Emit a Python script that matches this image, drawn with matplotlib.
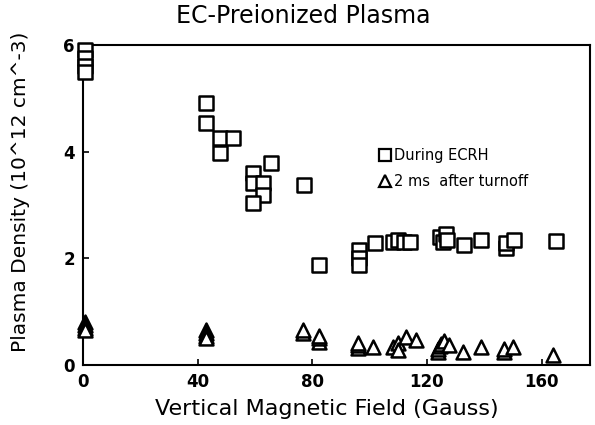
import matplotlib
matplotlib.use('Agg')
import matplotlib.pyplot as plt
from matplotlib.lines import Line2D

# 磁场 (Gauss) 与等离子体密度 (10^12 cm^-3)
ecrh_field = [0.5, 0.5, 0.5, 0.5, 42.7, 42.7, 47.9, 52.1, 47.9, 65.4, 59.4, 59.4, 62.9, 62.6,
              59.4, 76.9, 82.2, 96.2, 96.2, 96.2, 102, 108, 110, 112, 114, 124.5, 125.5,
              126.5, 127, 133, 139, 147.5, 147.5, 150.3, 165]
ecrh_density = [5.9, 5.75, 5.6, 5.5, 4.92, 4.54, 4.26, 4.26, 3.98, 3.79, 3.6, 3.41, 3.41,
                3.19, 3.04, 3.38, 1.88, 2.15, 2.0, 1.88, 2.28, 2.3, 2.35, 2.3, 2.3, 2.4,
                2.3, 2.45, 2.35, 2.25, 2.35, 2.19, 2.28, 2.35, 2.33]

after_field = [0.5, 0.5, 0.5, 0.5, 43, 43, 43, 43, 76.6, 76.6, 82.2, 82.2, 82.2, 96, 96, 96, 101,
               108, 110, 110, 112.6, 116, 123.8, 123.8, 124.5, 125, 126, 127.6, 132.5, 139,
               147, 147, 150, 164]
after_density = [0.8, 0.75, 0.7, 0.65, 0.65, 0.6, 0.55, 0.5, 0.6, 0.65, 0.43, 0.5, 0.55,
                 0.32, 0.37, 0.42, 0.34, 0.34, 0.42, 0.28, 0.53, 0.47, 0.25, 0.3, 0.35,
                 0.4, 0.45, 0.38, 0.25, 0.34, 0.25, 0.3, 0.34, 0.18]

x_ticks = [0, 40, 80, 120, 160]
y_ticks = [0, 2, 4, 6]

fig = plt.figure(figsize=(5.95, 4.25), dpi=100)
ax = fig.add_axes([0.14, 0.141, 0.852, 0.753])

ax.scatter(ecrh_field, ecrh_density, marker='s', s=110, facecolors='white',
           edgecolors='black', linewidths=1.8, zorder=3, clip_on=False)
ax.scatter(after_field, after_density, marker='^', s=100, facecolors='white',
           edgecolors='black', linewidths=1.8, zorder=3, clip_on=False)

ax.set_xlim(0, 177)
ax.set_ylim(0, 6)
ax.set_xticks(x_ticks)
ax.set_yticks(y_ticks)
ax.tick_params(direction='in', length=4, width=1.2, labelsize=12, pad=6)
for lab in ax.get_xticklabels() + ax.get_yticklabels():
    lab.set_fontweight('bold')
for s in ax.spines.values():
    s.set_linewidth(1.5)

ax.set_xlabel('Vertical Magnetic Field (Gauss)', fontsize=16)
ax.xaxis.set_label_coords(0.48, -0.105)
ax.set_ylabel('Plasma Density (10^12 cm^-3)', fontsize=14.5)
ax.yaxis.set_label_coords(-0.105, 0.54)
fig.text(0.51, 0.962, 'EC-Preionized Plasma', fontsize=17, ha='center', va='center')

handles = [
    Line2D([], [], marker='s', ls='none', mfc='white', mec='black', mew=1.6, ms=8),
    Line2D([], [], marker='^', ls='none', mfc='white', mec='black', mew=1.6, ms=8),
]
ax.legend(handles, ['During ECRH', '2 ms  after turnoff'], loc='upper left',
          bbox_to_anchor=(0.555, 0.72), frameon=False, fontsize=10.5,
          handletextpad=0.1, handlelength=1.0, labelspacing=0.8)

fig.savefig('out.png', dpi=100)
